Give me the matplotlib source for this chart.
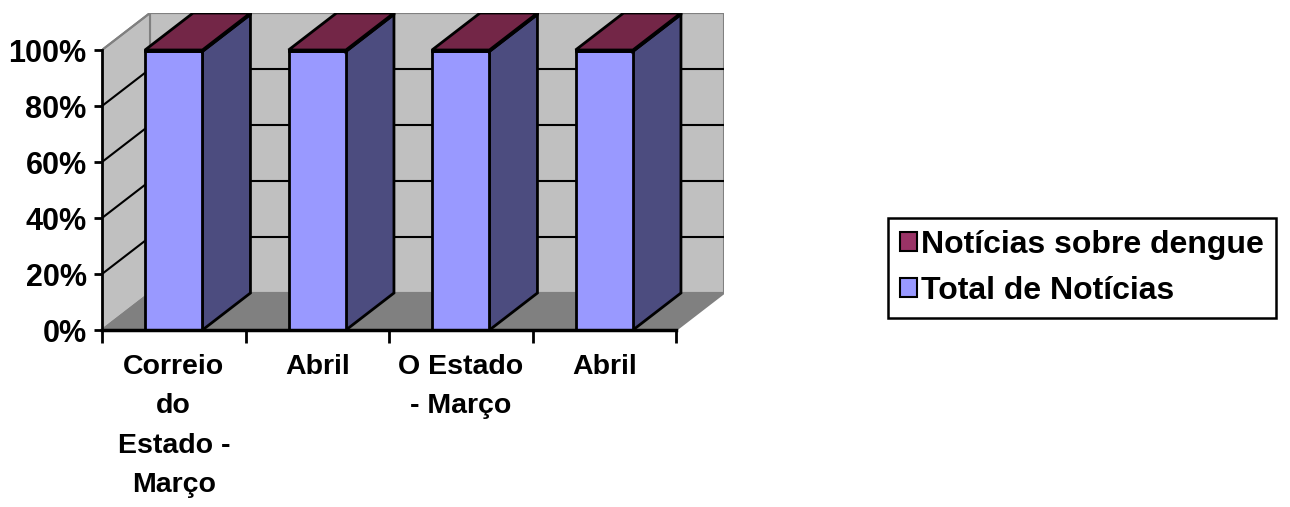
import numpy as np
import matplotlib
matplotlib.use("Agg")
import matplotlib.pyplot as plt
from matplotlib.patches import Polygon, Patch

plt.rcParams['font.family'] = ['Liberation Sans', 'DejaVu Sans']
plt.rcParams['font.weight'] = 'bold'

categorias = ["Correio\ndo\nEstado -\nMarço", "Abril", "O Estado\n- Março", "Abril"]
total_noticias = [99.5, 99.5, 99.5, 99.5]   # % do total
noticias_dengue = [0.5, 0.5, 0.5, 0.5]       # % do total
series = ["Notícias sobre dengue", "Total de Notícias"]
yticks = [0, 20, 40, 60, 80, 100]

# cores
cor_total = "#9999FF"
cor_total_lado = "#4C4C7F"
cor_dengue = "#993366"
cor_dengue_lado = "#66223F"
cor_dengue_topo = "#732647"
cor_parede = "#C0C0C0"
cor_piso = "#808080"

# profundidade 3D (unidades de categoria / %)
dx = 48 / 143.5
dy = 37 / 2.8
larg = 0.4

fig = plt.figure(figsize=(12.9, 5.07), dpi=100)
W, H = 1290, 507
ax = fig.add_axes([102 / W, 1 - 330 / H, (724 - 102) / W, (330 - 13) / H])
n = len(categorias)
ax.set_xlim(0, n + dx)
ax.set_ylim(0, 100 + dy)


def poly(pts, fc, ec="black", lw=2, z=1):
    ax.add_patch(Polygon(pts, closed=True, facecolor=fc, edgecolor=ec, linewidth=lw,
                         joinstyle="miter", zorder=z))


# paredes e piso
poly([(dx, dy), (n + dx, dy), (n + dx, 100 + dy), (dx, 100 + dy)], cor_parede, ec=cor_piso, lw=1.5, z=1)
poly([(0, 0), (dx, dy), (dx, 100 + dy), (0, 100)], cor_parede, ec=cor_piso, lw=1.5, z=1)
poly([(0, 0), (n, 0), (n + dx, dy), (dx, dy)], cor_piso, ec=cor_piso, lw=1.5, z=1)
for v in yticks[1:]:
    c = "black" if v < 100 else cor_piso
    ax.plot([dx, n + dx], [v + dy, v + dy], color=c, lw=1.5, zorder=2)
    ax.plot([0, dx], [v, v + dy], color=c, lw=1.5, zorder=2)

# barras empilhadas 3D
for i in range(n):
    x0 = i + 0.5 - larg / 2
    x1 = x0 + larg
    base = 0
    for val, cf, cl in [(total_noticias[i], cor_total, cor_total_lado),
                        (noticias_dengue[i], cor_dengue, cor_dengue_lado)]:
        top = base + val
        poly([(x1, base), (x1 + dx, base + dy), (x1 + dx, top + dy), (x1, top)], cl, z=3)
        poly([(x0, base), (x1, base), (x1, top), (x0, top)], cf, z=3)
        base = top
    poly([(x0, base), (x1, base), (x1 + dx, base + dy), (x0 + dx, base + dy)], cor_dengue_topo, z=4)

# eixos
for s in ["top", "right"]:
    ax.spines[s].set_visible(False)
ax.spines["left"].set_bounds(0, 100)
ax.spines["bottom"].set_bounds(0, n)
ax.spines["left"].set_linewidth(2)
ax.spines["bottom"].set_linewidth(2.5)
ax.spines["left"].set_zorder(5)
ax.spines["bottom"].set_zorder(5)
ax.set_yticks(yticks)
ax.set_yticklabels([f"{v}%" for v in yticks], fontsize=22, fontweight="bold")
ax.tick_params(axis="y", length=6, width=2, pad=5)
ax.set_xticks(np.arange(n + 1))
ax.set_xticklabels([])
ax.tick_params(axis="x", which="major", length=9, width=2, direction="out")
ax.set_xticks(np.arange(n) + 0.5, minor=True)
ax.set_xticklabels(categorias, minor=True, fontsize=20.5, fontweight="bold", linespacing=1.68)
ax.tick_params(axis="x", which="minor", length=0, pad=17)

handles = [Patch(facecolor=cor_dengue, edgecolor="black", linewidth=1.5),
           Patch(facecolor=cor_total, edgecolor="black", linewidth=1.5)]
leg = fig.legend(handles, series, loc="center", bbox_to_anchor=(1082 / W, 1 - 268 / H),
                 fancybox=False, framealpha=1, edgecolor="black",
                 prop={"size": 23, "weight": "bold"},
                 handlelength=0.55, handleheight=0.55, handletextpad=0.12,
                 borderpad=0.38, labelspacing=0.5, borderaxespad=0)
leg.get_frame().set_linewidth(1.8)

fig.savefig("out.png", dpi=100)
